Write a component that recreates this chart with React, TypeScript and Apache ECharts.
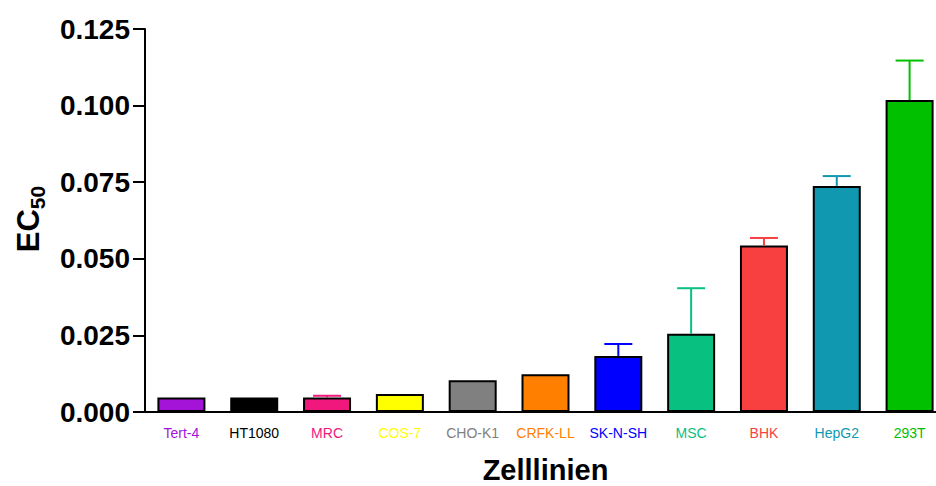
import React, { useEffect, useRef } from "react";
import * as echarts from "echarts";

const categories = ["Tert-4", "HT1080", "MRC", "COS-7", "CHO-K1", "CRFK-LL", "SK-N-SH", "MSC", "BHK", "HepG2", "293T"];
const values = [0.0047, 0.0047, 0.0047, 0.0059, 0.0104, 0.0123, 0.0183, 0.0255, 0.0543, 0.0738, 0.1018];
const errorTops = [0.0048, 0.0048, 0.0053, 0.0059, 0.0104, 0.0123, 0.0222, 0.0404, 0.0568, 0.077, 0.1147];
const colors = ["#a313d8", "#000000", "#f0187c", "#ffff00", "#808080", "#ff8000", "#0000ff", "#08c080", "#f84040", "#1098b0", "#00c000"];
const yTicks = [0, 0.025, 0.05, 0.075, 0.1, 0.125];

const FONT = "Liberation Sans, Arial, sans-serif";

export default function App() {
  const ref = useRef<HTMLDivElement>(null);
  useEffect(() => {
    if (!ref.current) return;
    const chart = echarts.init(ref.current, null, { renderer: "svg" });
    chart.setOption({
      animation: false,
      backgroundColor: "#ffffff",
      grid: { left: 145, top: 29, bottom: 74, width: 801, containLabel: false, outerBoundsMode: "none" },
      xAxis: {
        type: "category",
        data: categories.map((c, i) => ({ value: c, textStyle: { color: colors[i] } })),
        axisLine: { lineStyle: { color: "#000", width: 2 } },
        axisTick: { show: false },
        axisLabel: { fontFamily: FONT, fontSize: 14, margin: 14, interval: 0, hideOverlap: false },
        name: "Zelllinien",
        nameLocation: "middle",
        nameGap: 44,
        nameTextStyle: { fontFamily: FONT, fontSize: 29, lineHeight: 28, fontWeight: "bold", color: "#000", verticalAlign: "top" },
      },
      yAxis: {
        type: "value",
        min: yTicks[0],
        max: yTicks[yTicks.length - 1],
        interval: 0.025,
        splitLine: { show: false },
        axisLine: { show: true, lineStyle: { color: "#000", width: 2 } },
        axisTick: { show: true, length: 12, lineStyle: { color: "#000", width: 2 } },
        axisLabel: {
          fontFamily: FONT,
          fontSize: 28,
          fontWeight: "bold",
          color: "#000",
          margin: 15,
          formatter: (v: number) => v.toFixed(3),
        },
      },
      graphic: [
        {
          type: "text",
          x: 30,
          y: 219,
          rotation: Math.PI / 2,
          style: {
            text: "{a|EC}{b|50}",
            align: "center",
            verticalAlign: "middle",
            rich: {
              a: { fontFamily: FONT, fontSize: 31, fontWeight: "bold", fill: "#000", verticalAlign: "top" },
              b: { fontFamily: FONT, fontSize: 21, fontWeight: "bold", fill: "#000", padding: [14, 0, 0, 0] },
            },
          },
        },
      ],
      series: [
        {
          type: "bar",
          barWidth: 48,
          data: values.map((v, i) => ({
            value: v,
            itemStyle: { color: colors[i], borderColor: "#000", borderWidth: 2 },
          })),
        },
        {
          type: "custom",
          data: values.map((v, i) => [i, v, errorTops[i]]),
          encode: { x: 0, y: [1, 2] },
          z: 3,
          renderItem: (params: any, api: any) => {
            const i = api.value(0);
            const p0 = api.coord([i, api.value(1)]);
            const p1 = api.coord([i, api.value(2)]);
            if (Math.abs(p0[1] - p1[1]) < 1) return { type: "group", children: [] };
            const color = colors[i];
            const half = 14;
            return {
              type: "group",
              children: [
                { type: "line", shape: { x1: p0[0], y1: p0[1], x2: p1[0], y2: p1[1] }, style: { stroke: color, lineWidth: 2 } },
                { type: "line", shape: { x1: p1[0] - half, y1: p1[1], x2: p1[0] + half, y2: p1[1] }, style: { stroke: color, lineWidth: 2 } },
              ],
            };
          },
        },
      ],
    });
    return () => chart.dispose();
  }, []);
  return <div ref={ref} style={{ position: "fixed", left: 0, top: 0, width: 936, height: 486 }} />;
}
